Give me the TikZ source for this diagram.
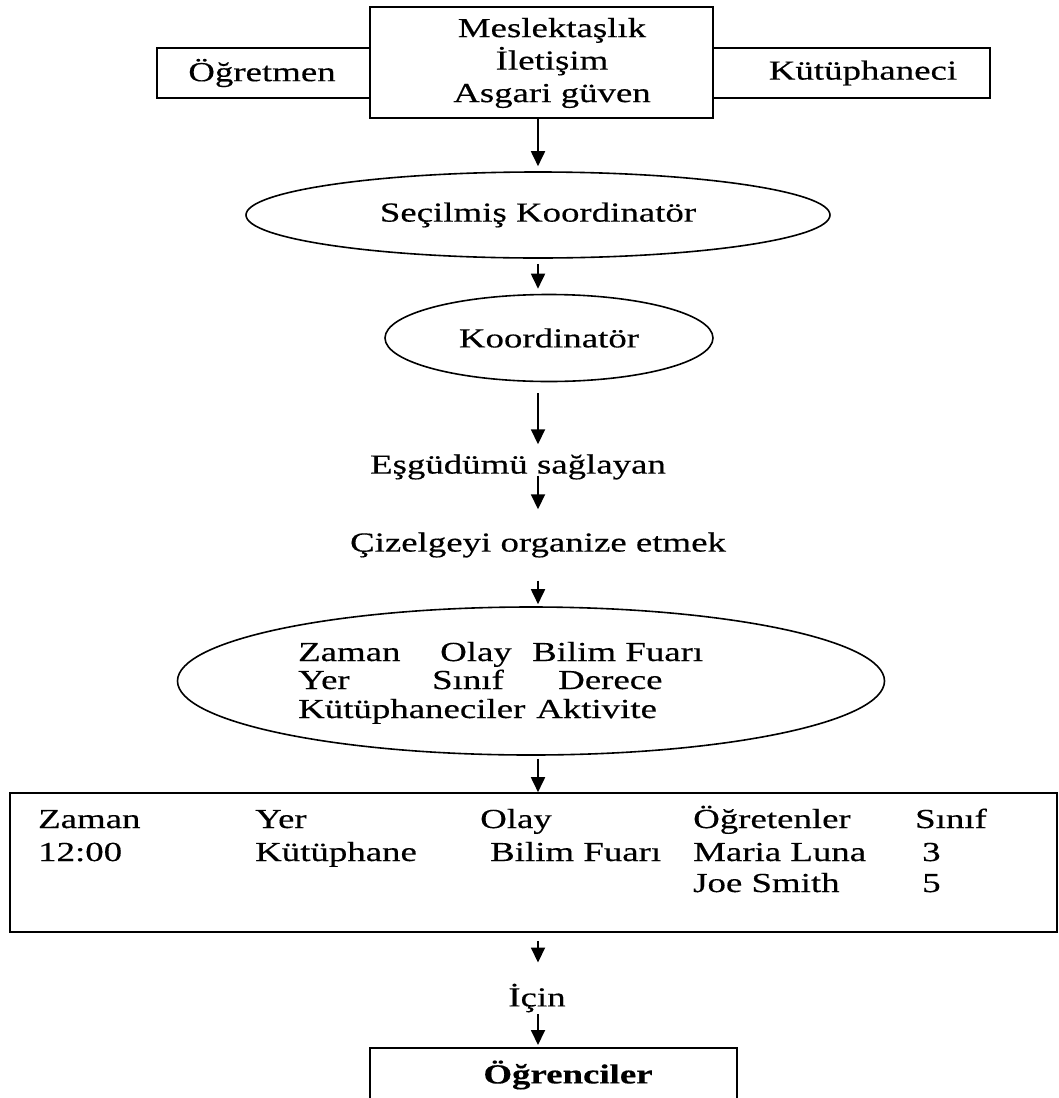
\documentclass[tikz,border=0pt]{standalone}
\usepackage{fontspec}
\setmainfont[FakeStretch=1.34,FakeBold=0.4]{Liberation Serif}
\usetikzlibrary{arrows.meta,shapes.geometric}
\begin{document}
\begin{tikzpicture}[x=1pt,y=-1pt,
  every node/.style={font=\fontsize{27.5}{32.5}\selectfont},
  box/.style={draw, line width=1.6pt, inner sep=0pt},
  oval/.style={draw, ellipse, line width=1.6pt, inner sep=0pt},
  lbl/.style={inner sep=0pt},
  cell/.style={anchor=base west, inner sep=0pt},
  arr/.style={line width=1.8pt, -{Triangle[length=15pt,width=14pt]}}]
\useasboundingbox (0,0) rectangle (1059,1098);

% top row
\node[box, minimum width=213pt, minimum height=50pt] (tea) at (263.5,73) {};
\node[lbl] (teat) at (262,73) {Öğretmen};
\node[box, minimum width=277pt, minimum height=50pt] (lib) at (851.5,73) {};
\node[lbl] (libt) at (863,73) {Kütüphaneci};
\node[box, fill=white, minimum width=343pt, minimum height=111pt] (top) at (541.5,62.5) {};
\node[lbl, align=center] (topt) at (552,63) {Meslektaşlık\\İletişim\\Asgari güven};

% ellipses and labels
\node[oval, minimum width=584pt, minimum height=86pt] (e1) at (538,215) {Seçilmiş Koordinatör};
\node[oval, minimum width=328pt, minimum height=87pt] (e2) at (549,338) {Koordinatör};
\node[lbl] (esg) at (518,467) {Eşgüdümü sağlayan};
\node[lbl] (ciz) at (538,545) {Çizelgeyi organize etmek};
\node[oval, minimum width=707pt, minimum height=148pt] (e3) at (531,681) {};
\node[cell] (z1) at (298,661) {Zaman};
\node[cell] (z2) at (440,661) {Olay};
\node[cell] (z3) at (532,661) {Bilim Fuarı};
\node[cell] (z4) at (298,689) {Yer};
\node[cell] (z5) at (432,689) {Sınıf};
\node[cell] (z6) at (558,689) {Derece};
\node[cell] (z7) at (298,718) {Kütüphaneciler};
\node[cell] (z8) at (536,718) {Aktivite};

% table
\node[box, minimum width=1047pt, minimum height=139pt] (tbl) at (533.5,862.5) {};
\node[cell] (t1) at (38,828) {Zaman};
\node[cell] (t2) at (255,828) {Yer};
\node[cell] (t3) at (480,828) {Olay};
\node[cell] (t4) at (693,828) {Öğretenler};
\node[cell] (t5) at (915,828) {Sınıf};
\node[cell] (t6) at (38,861) {12:00};
\node[cell] (t7) at (255,861) {Kütüphane};
\node[cell] (t8) at (490,861) {Bilim Fuarı};
\node[cell] (t9) at (693,861) {Maria Luna};
\node[cell] (t10) at (922,861) {3};
\node[cell] (t11) at (693,892) {Joe Smith};
\node[cell] (t12) at (922,892) {5};

\node[lbl] (icin) at (537,998) {İçin};
\node[box, minimum width=367pt, minimum height=80pt, anchor=north] (stu) at (553.5,1047) {};
\node[lbl, font=\fontsize{27.5}{32}\selectfont\bfseries] (stut) at (568,1075) {Öğrenciler};

% connectors
\draw[arr, shorten >=5pt] (top.south -| e1.north) -- (e1.north);
\draw[arr, shorten <=5pt, shorten >=5pt] (e1.south) -- (e1.south |- e2.north);
\draw[arr, shorten <=11pt, shorten >=10pt] (e2.south -| e1.south) -- (esg.north -| e1.south);
\draw[arr, shorten <=-4pt, shorten >=23pt] (esg.south -| e1.south) -- (ciz.north -| e1.south);
\draw[arr, shorten <=23pt, shorten >=2pt] (ciz.south -| e1.south) -- (e3.north -| e1.south);
\draw[arr, shorten <=3pt] (e3.south -| e1.south) -- (tbl.north -| e1.south);
\draw[arr, shorten <=8pt, shorten >=21pt] (tbl.south -| e1.south) -- (icin.north -| e1.south);
\draw[arr, shorten <=2pt, shorten >=2pt] (icin.south -| e1.south) -- (stu.north -| e1.south);
\end{tikzpicture}
\end{document}
